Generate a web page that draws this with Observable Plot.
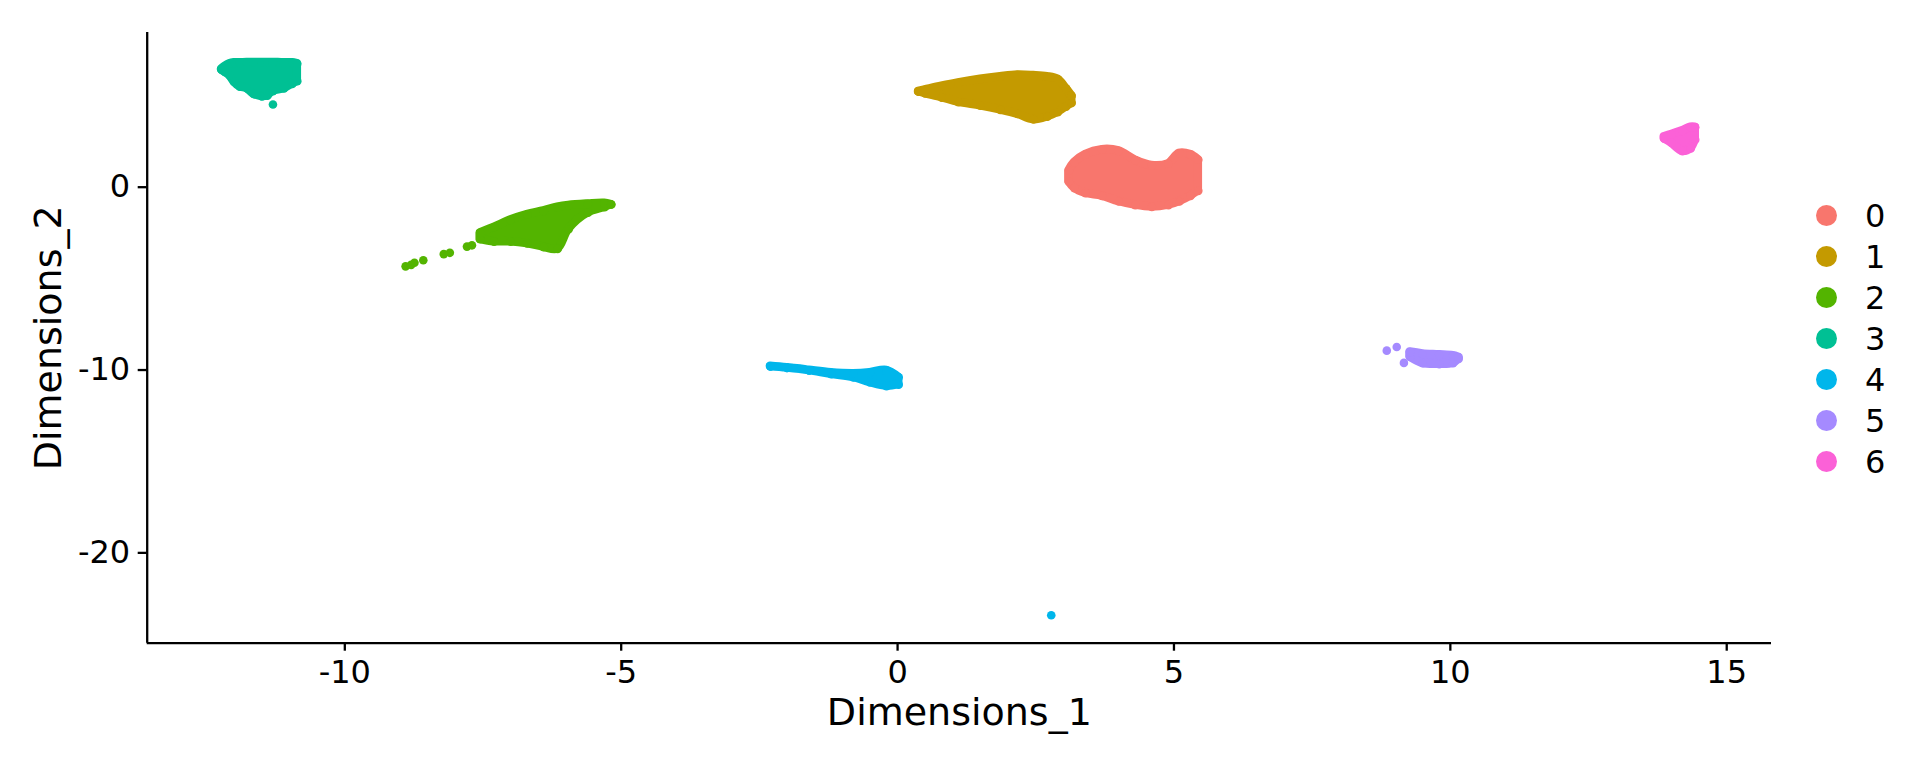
<!DOCTYPE html>
<html><head><meta charset="utf-8">
<script src="https://cdn.jsdelivr.net/npm/d3@7"></script>
<script src="https://cdn.jsdelivr.net/npm/@observablehq/plot@0.6"></script>
<style>
html,body{margin:0;padding:0;background:#fff;}
#wrap{position:relative;width:1920px;height:768px;font-family:"DejaVu Sans",sans-serif;}
#legend{position:absolute;left:1816px;top:195px;}
.row{display:flex;align-items:center;height:41px;}
.sw{width:21px;height:21px;border-radius:50%;flex:none;}
.lb{margin-left:28px;font-size:32px;line-height:1;color:#000;}
</style></head><body><div id="wrap"></div>
<script>
// categories and colours
const clusters = ["0","1","2","3","4","5","6"];
const colors = ["#F8766D","#C49A00","#53B400","#00C094","#00B6EB","#A58AFF","#FB61D7"];
// axes
const xTicks = [-10,-5,0,5,10,15];
const yTicks = [-20,-10,0];
const xDomain = [-13.575, 15.81];
const yDomain = [-24.94, 8.46];
const xLabel = "Dimensions_1";
const yLabel = "Dimensions_2";

// cluster bodies: [x, lower y, upper y]
const body0 = [[3.1,0.3,0.9],[3.2,-0.05,1.35],[3.4,-0.33,1.78],[3.7,-0.48,2.05],[4.0,-0.78,1.98],[4.3,-0.98,1.48],[4.6,-1.08,1.18],[4.9,-0.98,1.28],[5.1,-0.78,1.85],[5.3,-0.48,1.78],[5.44,-0.2,1.5]];
const body1 = [[0.38,5.22,5.24],[0.5,5.12,5.32],[0.8,4.9,5.52],[1.1,4.65,5.7],[1.5,4.45,5.9],[1.86,4.23,6.04],[2.17,4.0,6.13],[2.46,3.7,6.1],[2.71,3.85,6.04],[2.9,4.1,5.9],[3.05,4.4,5.4],[3.15,4.6,5.0]];
const body2 = [[-7.55,-2.85,-2.5],[-7.3,-2.98,-2.2],[-7.0,-2.98,-1.8],[-6.7,-3.08,-1.5],[-6.4,-3.28,-1.3],[-6.15,-3.38,-1.1],[-5.95,-2.3,-1.0],[-5.6,-1.4,-0.92],[-5.3,-1.1,-0.88],[-5.18,-0.95,-0.95]];
const body3 = [[-12.23,6.42,6.45],[-12.17,6.3,6.6],[-12.08,6.1,6.75],[-12.0,5.75,6.8],[-11.9,5.5,6.8],[-11.77,5.4,6.82],[-11.65,5.1,6.82],[-11.5,4.96,6.82],[-11.4,5.0,6.82],[-11.3,5.25,6.82],[-11.1,5.4,6.8],[-10.95,5.65,6.8],[-10.86,5.8,6.75]];
const body4 = [[-2.3,-9.8,-9.8],[-2.0,-9.88,-9.88],[-1.6,-10.02,-10.02],[-1.2,-10.23,-10.15],[-0.8,-10.4,-10.2],[-0.5,-10.68,-10.15],[-0.2,-10.88,-10.02],[0.02,-10.8,-10.4]];
const body5 = [[9.27,-9.28,-9.02],[9.5,-9.63,-9.12],[9.8,-9.68,-9.17],[10.05,-9.63,-9.22],[10.15,-9.4,-9.3]];
const body6 = [[13.87,2.65,2.75],[14.0,2.42,2.88],[14.2,1.97,3.08],[14.35,2.12,3.28],[14.43,2.6,3.28]];
const bodies = [body0, body1, body2, body3, body4, body5, body6];

// separate cells: [cluster, x, y]
const loneCells = [
  ["2",-8.9,-4.33],["2",-8.8,-4.25],["2",-8.74,-4.13],["2",-8.58,-4.0],["2",-8.21,-3.66],["2",-8.1,-3.59],["2",-7.79,-3.25],["2",-7.7,-3.18],
  ["3",-11.30,4.52],
  ["4",2.78,-23.41],
  ["5",8.85,-8.94],["5",9.03,-8.74],["5",9.16,-9.61]
];

const bands = clusters.flatMap((c,i) => bodies[i].map(([x,lo,hi]) => ({cluster:c, x, lo, hi})));
const edgeDots = bands.flatMap(d => [{cluster:d.cluster, x:d.x, y:d.lo}, {cluster:d.cluster, x:d.x, y:d.hi}]);
const cells = edgeDots.concat(loneCells.map(([cluster,x,y]) => ({cluster, x, y})));

const chart = Plot.plot({
  width: 1920, height: 768,
  marginLeft: 146.7, marginRight: 149, marginTop: 32, marginBottom: 125.3,
  x: {domain: xDomain},
  y: {domain: yDomain},
  color: {domain: clusters, range: colors},
  style: {fontFamily: "DejaVu Sans", fontSize: "32px", background: "white", color: "black"},
  marks: [
    Plot.areaY(bands, {x: "x", y1: "lo", y2: "hi", z: "cluster", fill: "cluster", stroke: "cluster", strokeWidth: 8.6, strokeLinejoin: "round", curve: "catmull-rom"}),
    Plot.dot(cells, {x: "x", y: "y", r: 4.3, fill: "cluster"}),
    Plot.ruleX([xDomain[0]], {stroke: "black", strokeWidth: 2.3}),
    Plot.ruleY([yDomain[0]], {stroke: "black", strokeWidth: 2.3}),
    Plot.axisX({ticks: xTicks, tickSize: 8, tickPadding: 9, fontSize: 32, tickFormat: d => String(d), label: null, strokeWidth: 2.3, stroke: "black", fill: "black"}),
    Plot.axisY({ticks: yTicks, tickSize: 9, tickPadding: 8, fontSize: 32, tickFormat: d => String(d), label: null, strokeWidth: 2.3, stroke: "black", fill: "black"}),
    Plot.text([xLabel], {text: d => d, frameAnchor: "bottom", lineAnchor: "middle", textAnchor: "middle", dy: 70, fontSize: 38, fill: "black"}),
    Plot.text([yLabel], {text: d => d, frameAnchor: "left", lineAnchor: "middle", textAnchor: "middle", rotate: -90, dx: -98, fontSize: 38, fill: "black"})
  ]
});
const wrap = document.getElementById("wrap");
wrap.appendChild(chart);

const legend = document.createElement("div");
legend.id = "legend";
clusters.forEach((c,i) => {
  const row = document.createElement("div"); row.className = "row";
  const sw = document.createElement("div"); sw.className = "sw"; sw.style.background = colors[i];
  const lb = document.createElement("div"); lb.className = "lb"; lb.textContent = c;
  row.appendChild(sw); row.appendChild(lb); legend.appendChild(row);
});
wrap.appendChild(legend);
</script></body></html>
